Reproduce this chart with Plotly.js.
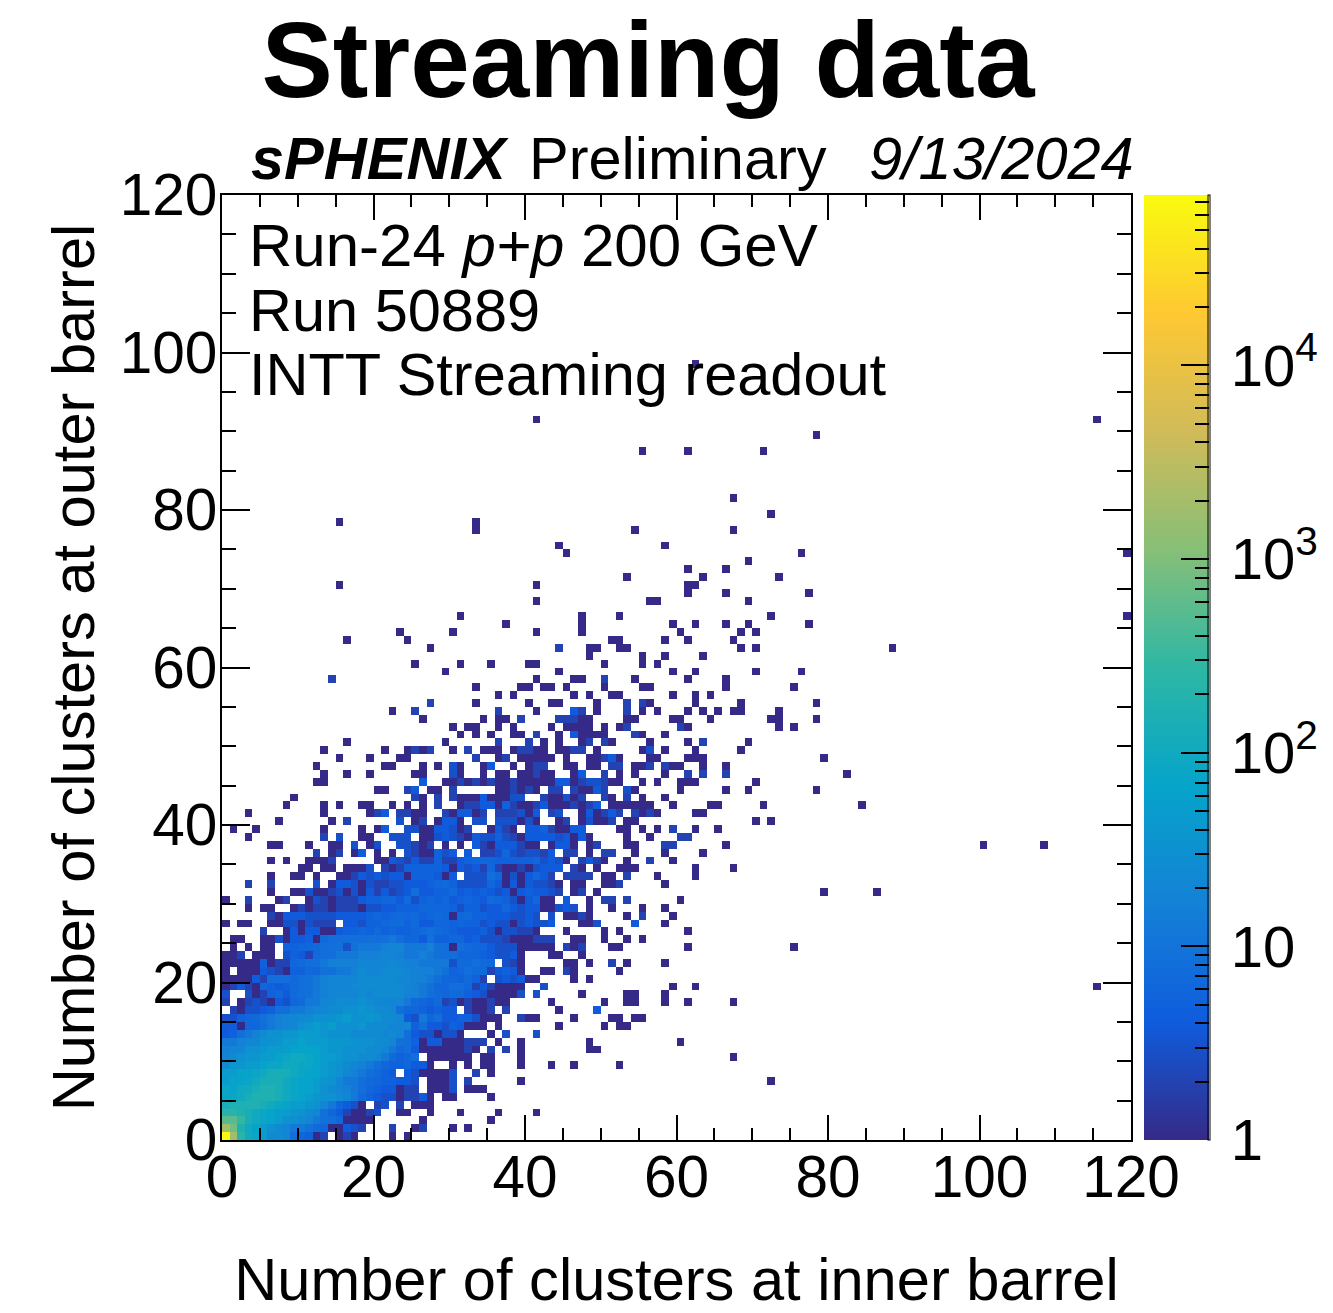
<!DOCTYPE html>
<html><head><meta charset="utf-8">
<script src="https://cdn.plot.ly/plotly-3.0.1.min.js"></script>
<style>html,body{margin:0;padding:0;background:#fff}#chart{width:1333px;height:1313px}</style>
</head><body><div id="chart"></div>
<script>
// Bin counts. One char per x bin, one string per y bin (from y = 0 up).
// '.' empty, digits are counts, letters are the larger counts in letterCounts.
const letterCounts = {a:12,b:16,c:20,d:25,e:32,f:40,g:50,h:65,i:80,j:100,k:130,l:170,m:220,n:300,o:400,p:550,q:800,r:1200,s:2000,t:3500,u:70000};
const coreRows = [
"usmjigddc86512.121....1.1",
"sqljhgedcaa97611432...2..12...1.1",
"ppnkjihgeedca9861111......1........1",
"mmlkjihggfedc96421123..11..1...1....1....1",
"kllllkjihggfeca6431.23.2.111",
"iijklllkjihgfeedca7543312241.11....1",
"ihjjkllkjihhgedcba86544122.1113.111",
"ghhijkkkjihhgfecaa87655443.1113.2......1",
"gghhijkkkjihhgfecba8754.4311113..2.1",
"dffgghiijjiihgfedcba86556441..1.1.11...1...1",
"cdeffgghijjihggfeeddca7568.111111.11...1",
"bcceefggghhhhgffeeeddca78411111121.2.2.1",
"aabcceefgghgggfffeeeddc98514411122 2.1..1",
"458abdeeffgggfeeeddddcdc84331331...1.3...3",
"441668abccefgfgeeefdddccc5844354111.1",
"335679abccddeeefgeefeddc43a684455311 1..211",
".21334588aabccddeefeddc86654544.2112.2",
"2.123214367aaccdddedcccca7657231211211.....1",
"3..312564789abccccdcddddbba8767754311113.3",
"124216545789abcccdddddddcba9668862421111..3",
"111142888789abccccdddddccbba8665752.343411",
"1.1114321557699aabdccdddcbbba95687724541..11",
"1111151226789abbbbccccdcbbaaaa377876.321",
"112.111.3542788aaabbbccbaaba988666543341...1",
".1.1.11.5566789939aaabccaaab9818766433311111",
".11..113144517888889 89a866495566453332111222",
".....2..14144114556575655678765444531 33221..",
"1.11..113313222.44355677574466565534331 34334",
"......21444333344445656767567616755444334 3.3",
"...1.11..1212212221334455566665355344643 4411"
].map(function (r) { return r.replace(/ /g, ''); });
// "bin" means a count of 1, "bin:count" is any other count. Index is y bin minus 30.
const upperRows = [
"0 3:2 7 8:2 11 12:3 13:2 14 15:2 16:2 17:2 18:4 19:5 20:5 21:6 22:6 23:4 24:7 25:3 26:5 27:6 28:5 29:6 30:4 31:5 32:6 33:5 34:4 35:7 36:6 37:5 38:3 39 40:4 41:6 42 43 45:4 48 50:2 51:2 53:2 60",
"6 9 10 11:3 12 13 14:2 15:3 16 17:3 18 19:4 20:2 21:4 22:2 23:3 24:4 25:8 26:4 27:4 28:5 29:5 30:7 31:4 32:5 33:4 34:5 35:4 36:3 37:4 38 39:4 40:5 41:4 42:4 43:3 44:2 46 47:2 49 79 86",
"3:2 6:2 12:3 14 15:4 16:4 17:3 18 19:3 20:2 21:2 22:3 23:3 24:4 25:4 26:4 27:5 28:6 29:7 30:5 31:3 32:3 33:3 34:3 35:6 36:4 37 38:4 39 40:4 41:3 42:3 43:2 44 46 47 50 51 52:2 58",
"6 9 10 12 15 16 17:2 18:4 19:3 20:4 21:3 22:4 23:4 24 25:5 26:5 27:5 28:4 29 30:4 32:3 33:3 34:3 35:8 36:6 37 38:3 39 40:4 41:6 42:4 43:2 45:2 46:2 47:2 48:2 50 51 53:2 57 62",
"10 11 13 14 16 17 18 19:3 21:2 22 23:2 24:5 25:5 26:5 27:5 28:5 29:4 30 31:4 32:3 33:4 34:2 35:6 36:2 37 38 39:2 40 41:3 42:4 43:4 44:4 46:2 47 49 52 53 54 62 67",
"6 8 11 12 13 14:2 20 21 22:4 23:3 24:2 25:4 26:2 27:2 28:5 29:2 30:2 31:4 32:5 33:6 34:6 35:6 36:5 37:5 38:5 39:5 40:5 41:6 42:3 43:4 44:3 45 47:2 48:4 49:2 50 53 56:2 59",
"12:2 14 15:2 17 18:4 20 22 24:3 25:2 26 27 28:5 29:3 30:4 32:4 34:2 35:2 36:3 37:6 38:3 39:2 40:3 41:3 42:2 43:4 45:2 46:2 48 50:2 51:2 54 58 63",
"6 7 11 14 15 17:3 19 20:3 23:3 24:3 25:2 26 27:2 29 31 33:4 34:2 35 36:4 37:4 38:4 39:2 40 41 43 44:4 45:4 46 48 49:2 53 54 58:2 59:2 66 100 108",
"3 13:2 15:3 18 19 22:3 23:3 24:3 26 27 28:3 29:4 30:3 31:2 32 33:4 34:3 35:3 36:5 37:3 38:2 39 40:4 41:4 42:4 43:4 44:3 45:4 46 47:4 48 53 56 60:2 61:2",
"1 4 13 18 20 21:4 24:3 25:3 26 27 28:4 29:4 30:3 31 32:2 35 36:4 37:2 38 40:4 41:4 42:5 43:2 44 45 46:4 47:4 52 53 55 57 59:2 62 65",
"7 14 16:2 23:3 25 26:2 28 29:4 30:4 31 33:3 34:3 36:3 37:3 38:3 39 40:3 41 44 45:2 47 48:3 49 50 51:2 53 54 70 72",
"3 13 19 20:2 21:4 23:2 24:2 25 26 29:2 30 31:4 32:4 33 34:2 36:2 37:2 38:2 39:3 40 41:4 43:2 44:3 47 48:4 49 50:2 51:4 52:2 54:2 55 56:2 57 62 63",
"8 13 15 18 19 22 24 26 28:2 31 32:2 33:2 34:4 35:4 36 37:5 38:2 39 40 41:2 42:4 43 44 45 46:2 47 48:2 49:4 51 52 53 54 55 56 59 64 65 71 84",
"9 25:2 26 28:2 30:2 31 32 33 34:4 35 36 37 38:3 39:3 42:2 43 44 45:3 46 47:2 50:2 51 53:2 55 58",
"20 21 24:2 25:4 27 28 30:2 36 37 38:2 39 40:2 41 43:2 44:2 46:2 47 48 49:4 50:2 53:3 54 60 66 69 78",
"12 13 26:4 29 30 31:2 32 33:2 34 35:2 36 37 38:2 39 40 41 42 43 44:4 45:4 46 47:2 48:3 49:3 50:2 51 52 55 57 60 61 62 70",
"13 16 19 25 26 30:3 31 34 36 37 39 40 41:2 42 43 46 47:4 50:2 52 54 58 61:2 63:2 66:2 82",
"12 21 22 26 28 30:3 31 34 35:4 38 40 41:2 42:2 45 46 48 49 51:2 52:2 54 55 56:2 58:2 59 60 63 66",
"15 19 23 24 33:2 36 37:2 39 40 41 42 43 45 48 49 50:2 51:4 52 56 57 61 62 63 79",
"13 21 24 25:2 26 27:2 30 32:2 34 35 36 38 39:2 40:2 41 42 44 45 46:2 47:2 49 55 56:3 58 62 68",
"16 29 36:2 40:2 42 44 47 48:2 50:2 51 56 61 63:2 69",
"31 33 35 38 39 41:2 44 46:4 47 48 49 50 54:2 55 58",
"30 32 33 36 38 43 45 46 47 48 50 52 53:2 60:2 61 73 75",
"26 34 36 37 39:2 44:2 45:2 46:2 47 48 53 54 59 60 64 72 73 78",
"22 25:2 36:2 41 46:4 47:2 49 53:2 55 57 61 63 65 67 68 73",
"27:2 33 40 43 44 49 53:2 55:2 56 62 68 78",
"36 38 46 48 51 52 59 62 64",
"33 39 40 42 43 45 50 55 56 66 75",
"14:2 41 46 47 50:2 54 61 66",
"29 44 59 62 70 76",
"25 31 35 40 41 50 55 57",
"48 55 58 63",
"27 44:2 48 49 52 53 68 70 88",
"16 24 51 52 58 61 67",
"23 30 41 47 60 68 70",
"37 47 59 62 66 69 77",
"31 47 52 72 119",
"",
"41 56 57 69",
"61 66 77",
"15 41 61 62",
"53 63 73",
"61 66",
"69",
"45 76 119",
"44 58",
"",
"33 54 67",
"15 33",
"72",
"",
"67",
"","","","","",
"55 61 71",
"",
"78",
"",
"41 115",
"","","","","","",
"62"
];
// Bins to the right of the core strings, for y bins 0..29.
const coreRightRows = ["","","","","","","","72","","46 52","67","48 49","48 60","","44 50 52 53","46 51 52 54 55","44 49:4","50 53 54 58 61 67","47 53 54 58","59 62 115","46 48","45:2 46 52","45 46 48 51:2 53 58","44 47","45:2 46 47:2 51 52 61 75","46 47 50 53 55","45 50 52 61","47 48 49:3 54:4 58","45 46 47:2 48 53 55:2 59","44:3 45:4 46:3 48 51 55 58"];

const binEdgesMax = 120;
const axisTicks = [0, 20, 40, 60, 80, 100, 120];
const colorbarMajor = [1, 10, 100, 1000, 10000];
const colorbarMajorLabels = ['1', '10', '10<sup>2</sup>', '10<sup>3</sup>', '10<sup>4</sup>'];
const colorbarMinor = [2,3,4,5,6,7,8,9,20,30,40,50,60,70,80,90,200,300,400,500,600,700,800,900,2000,3000,4000,5000,6000,7000,8000,9000,20000,30000,40000,50000,60000,70000];
const zTopLog = 4.88;
const birdColors = [[0,'rgb(53,42,135)'],[0.125,'rgb(15,92,221)'],[0.25,'rgb(20,129,214)'],[0.375,'rgb(6,164,202)'],[0.5,'rgb(46,183,164)'],[0.625,'rgb(135,191,119)'],[0.75,'rgb(209,187,89)'],[0.875,'rgb(254,200,50)'],[1,'rgb(249,251,14)']];
const clearColors = [[0, 'rgba(0,0,0,0)'], [1, 'rgba(0,0,0,0)']];

const centers = [];
for (let i = 0; i < binEdgesMax; i++) centers.push(i + 0.5);
const z = centers.map(function () { return centers.map(function () { return null; }); });
function put(row, bin, n) { z[row][bin] = Math.log10(n); }
function putSparse(row, text) {
  text.split(' ').filter(Boolean).forEach(function (t) {
    const p = t.split(':');
    put(row, +p[0], p[1] ? +p[1] : 1);
  });
}
coreRows.forEach(function (s, row) {
  for (let b = 0; b < s.length; b++) {
    const c = s[b];
    if (c === '.') continue;
    put(row, b, letterCounts[c] || +c);
  }
});
coreRightRows.forEach(function (s, row) { putSparse(row, s); });
upperRows.forEach(function (s, i) { putSparse(i + 30, s); });

const W = 1333, H = 1313, L = 222, R = 1131, T = 195, B = 1140;
const FONT = 'Liberation Sans, Arial, sans-serif';
function txt(text, px, py, size, anchor) {
  return {text: text, x: px / W, y: 1 - py / H, xref: 'paper', yref: 'paper', xanchor: anchor || 'left', yanchor: 'middle',
    showarrow: false, borderpad: 0, font: {family: FONT, size: size || 59.5, color: '#000'}};
}
const barBase = {xanchor: 'left', xpad: 0, y: 1 - B / H, yanchor: 'bottom', ypad: 0,
  len: (B - T) / H, lenmode: 'fraction', thicknessmode: 'pixels', outlinewidth: 0, borderwidth: 0};

const trace = {
  type: 'heatmap', x: centers, y: centers, z: z, zmin: 0, zmax: zTopLog, zsmooth: false,
  colorscale: birdColors, hoverongaps: false, hoverinfo: 'skip',
  colorbar: Object.assign({}, barBase, {x: 1144 / W, thickness: 65,
    tickmode: 'array', tickvals: colorbarMajor.map(function (v) { return Math.log10(v); }),
    ticktext: colorbarMajorLabels.map(function (t) { return '\u200a\u200a' + t; }),
    ticks: 'inside', ticklen: 28, tickwidth: 2, tickcolor: '#000',
    tickfont: {family: FONT, size: 58, color: '#000'}})
};
// Transparent colour bar on top of the real one: it only adds the short minor ticks.
const minorTickBar = {
  type: 'heatmap', x: centers, y: centers, z: z, zmin: 0, zmax: zTopLog, hoverinfo: 'skip', zsmooth: false,
  colorscale: clearColors,
  colorbar: Object.assign({}, barBase, {x: 1144 / W, thickness: 65,
    tickmode: 'array', tickvals: colorbarMinor.map(function (v) { return Math.log10(v); }),
    showticklabels: false, ticks: 'inside', ticklen: 14, tickwidth: 2, tickcolor: '#000'})
};
// Thin outlined colour bar: the axis line at the right edge of the colour bar.
const edgeBar = {
  type: 'heatmap', x: centers, y: centers, z: z, zmin: 0, zmax: zTopLog, hoverinfo: 'skip', zsmooth: false,
  colorscale: clearColors,
  colorbar: Object.assign({}, barBase, {x: 1208 / W, thickness: 1, ticks: '', showticklabels: false, outlinewidth: 1, outlinecolor: '#000'})
};

const axisBase = {
  range: [0, 120], tickmode: 'array', tickvals: axisTicks, ticks: 'inside', tickwidth: 2, tickcolor: '#000',
  showline: true, linecolor: '#000', linewidth: 2, mirror: 'allticks', showgrid: false, zeroline: false,
  tickfont: {family: FONT, size: 58.5, color: '#000'}
};
const layout = {
  width: W, height: H, margin: {l: 0, r: 0, t: 0, b: 0, autoexpand: false}, paper_bgcolor: '#fff', plot_bgcolor: '#fff', hovermode: false,
  title: {text: '<b>Streaming data</b>', font: {family: FONT, size: 107, color: '#000'}, x: 648 / W, xanchor: 'center', xref: 'paper', y: 1 - 60 / H, yanchor: 'middle', yref: 'container'},
  xaxis: Object.assign({}, axisBase, {domain: [L / W, R / W], anchor: 'y', ticklen: 25, ticklabelstandoff: -15,
    minor: {tickmode: 'linear', tick0: 0, dtick: 5, ticks: 'inside', ticklen: 12, tickwidth: 2, tickcolor: '#000', showgrid: false},
    title: {text: 'Number of clusters at inner barrel', font: {family: FONT, size: 59.6, color: '#000'}, standoff: 61}}),
  yaxis: Object.assign({}, axisBase, {domain: [1 - B / H, 1 - T / H], anchor: 'x', ticklen: 28, ticklabelstandoff: -9,
    minor: {tickmode: 'linear', tick0: 0, dtick: 5, ticks: 'inside', ticklen: 14, tickwidth: 2, tickcolor: '#000', showgrid: false},
    title: {text: 'Number of clusters at outer barrel', font: {family: FONT, size: 59.6, color: '#000'}, standoff: 6}}),
  annotations: [
    txt('<b><i>sPHENIX</i></b>', 250, 158),
    txt('Preliminary', 528, 158),
    txt('<i>9/13/2024</i>', 868, 158),
    txt('Run-24 <i>p+p</i> 200 GeV', 248, 246, 60),
    txt('Run 50889', 248, 310),
    txt('INTT Streaming readout', 248, 374)
  ]
};
Plotly.newPlot('chart', [trace, minorTickBar, edgeBar], layout, {displayModeBar: false, staticPlot: true});
</script></body></html>
